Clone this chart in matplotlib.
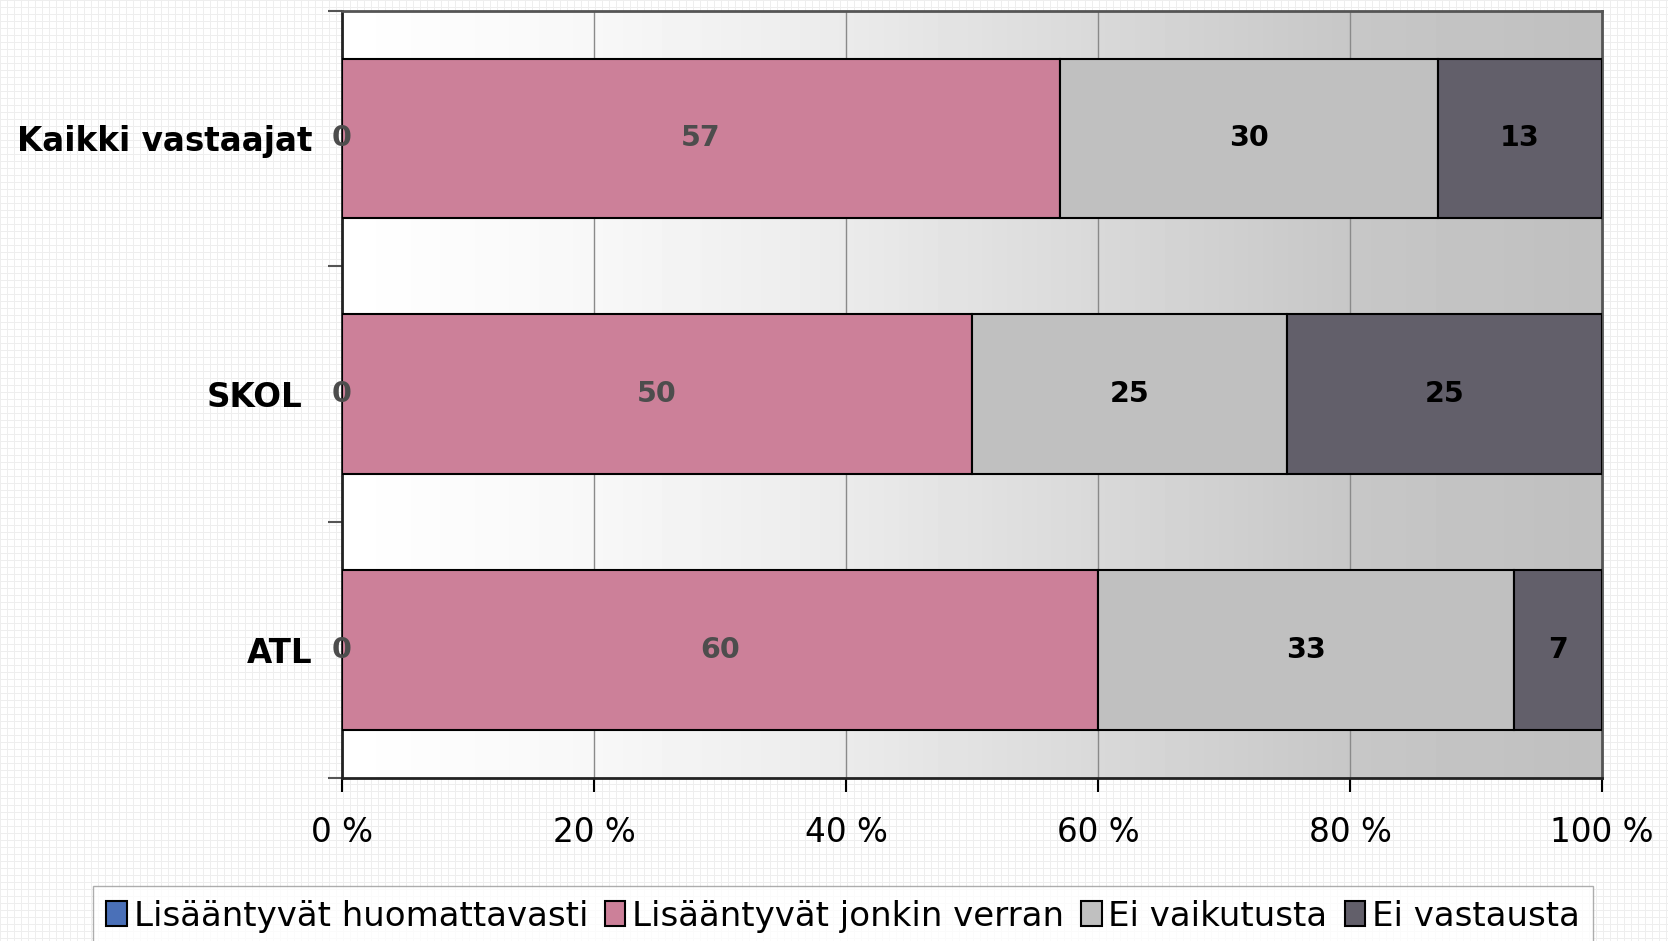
import numpy as np
import matplotlib
matplotlib.use("Agg")
import matplotlib.pyplot as plt
from matplotlib.transforms import ScaledTranslation

# data
groups = ["Kaikki vastaajat", "SKOL", "ATL"]
series = ["Lisääntyvät huomattavasti", "Lisääntyvät jonkin verran",
          "Ei vaikutusta", "Ei vastausta"]
huomattavasti = [0, 0, 0]
jonkin_verran = [57, 50, 60]
ei_vaikutusta = [30, 25, 33]
ei_vastausta = [13, 25, 7]
xticks = [0, 20, 40, 60, 80, 100]
xtick_labels = ["0 %", "20 %", "40 %", "60 %", "80 %", "100 %"]

colors = ["#4a70b8", "#cc8099", "#c0c0c0", "#625f6a"]
label_colors = ["#4d4d4d", "#4d4d4d", "black", "black"]

W, H = 1668, 941
fig = plt.figure(figsize=(W / 100, H / 100), dpi=100)

# background grid pattern
bg = np.ones((H, W))
bg[::7, :] = 0.93
bg[:, ::7] = 0.93
fig.figimage(bg, cmap="gray", vmin=0, vmax=1, zorder=-10)

ax = fig.add_axes([0.205, 0.1737, 0.7554, 0.815])
ax.set_facecolor("none")

# horizontal gradient inside plot area (white -> grey, eased)
t = np.linspace(0, 1, 256)
grad = np.interp(t, [0, 0.2, 0.4, 0.6, 0.8, 1.0],
                 [1.0, 0.97, 0.92, 0.85, 0.78, 0.75]).reshape(1, -1)
ax.imshow(grad, cmap="gray", vmin=0, vmax=1, aspect="auto",
          extent=[0, 100, 2.5, -0.5], zorder=0)

y = np.arange(len(groups))
left = np.zeros(len(groups))
for name, vals, c, lc in zip(series, [huomattavasti, jonkin_verran, ei_vaikutusta, ei_vastausta],
                             colors, label_colors):
    bars = ax.barh(y, vals, left=left, height=0.625, color=c, edgecolor="black",
                   linewidth=1.5, label=name, zorder=3)
    ax.bar_label(bars, labels=[str(v) for v in vals], label_type="center",
                 color=lc, fontsize=20.5, fontweight="bold", zorder=4)
    left += np.array(vals)

ax.set_xlim(0, 100)
ax.set_ylim(2.5, -0.5)
ax.set_xticks(xticks)
ax.set_xticklabels(xtick_labels, fontsize=23.5)
ax.xaxis.grid(True, color="#8a8a8a", linewidth=1)
ax.set_axisbelow(True)
ax.tick_params(axis="x", length=10, width=1.5, pad=17.5, color="black")

ax.set_yticks([-0.5, 0.5, 1.5, 2.5])
ax.set_yticklabels([])
ax.set_yticks(y, minor=True)
ax.set_yticklabels(groups, minor=True, fontsize=23.5, fontweight="bold")
ax.tick_params(axis="y", which="major", length=10, width=1.5, color="#555555")
ax.tick_params(axis="y", which="minor", length=0, pad=21)

# SKOL sits a bit further left in the original
skol = ax.get_yticklabels(minor=True)[1]
skol.set_transform(skol.get_transform() + ScaledTranslation(-0.10, 0, fig.dpi_scale_trans))

for s in ["left", "bottom"]:
    ax.spines[s].set_color("#222222")
    ax.spines[s].set_linewidth(2)
for s in ["top", "right"]:
    ax.spines[s].set_color("#555555")
    ax.spines[s].set_linewidth(2)

leg = fig.legend(loc="upper center", bbox_to_anchor=(0.5054, 1 - 886 / H),
                 ncol=4, fontsize=24.5, frameon=True, fancybox=False,
                 handlelength=0.6, handleheight=0.75, handletextpad=0.2,
                 columnspacing=0.5, borderpad=0.4, borderaxespad=0)
leg.get_frame().set_edgecolor("#999999")
leg.get_frame().set_linewidth(1)

fig.savefig("out.png", dpi=100)
